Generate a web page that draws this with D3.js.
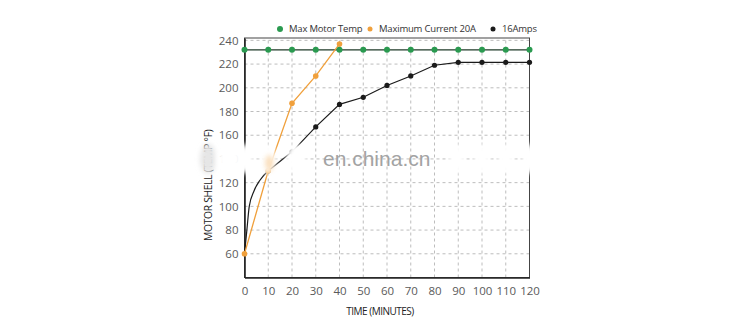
<!DOCTYPE html>
<html>
<head>
<meta charset="utf-8">
<script src="https://cdn.jsdelivr.net/npm/d3@7"></script>
<style>
  body { margin: 0; background: #fff; }
  svg { display: block; font-family: 'Open Sans', sans-serif; }
</style>
</head>
<body>
<svg width="750" height="332"></svg>
<script>
// time in minutes, temperature in °F
const xTicks = [0, 10, 20, 30, 40, 50, 60, 70, 80, 90, 100, 110, 120]
const yTicks = [60, 80, 100, 120, 140, 160, 180, 200, 220, 240]
const maxTempTime = [0, 10, 20, 30, 40, 50, 60, 70, 80, 90, 100, 110, 120]
const maxTemp = [232, 232, 232, 232, 232, 232, 232, 232, 232, 232, 232, 232, 232]
const current20Time = [0, 10, 20, 30, 40]
const current20 = [60, 130, 187, 210, 237]
// warm-up part of the 16A curve is smooth, the rest is straight segments
const amps16EarlyTime = [0, 1, 2, 4, 6.5, 10]
const amps16Early = [60, 80, 100, 113, 122, 130]
const amps16Time = [10, 20, 30, 40, 50, 60, 70, 80, 90, 100, 110, 120]
const amps16 = [130, 146, 167, 186, 192, 202, 210, 219, 221.5, 221.5, 221.5, 221.5]
const legendLabels = ['Max Motor Temp', 'Maximum Current 20A', '16Amps']

const svg = d3.select('svg')
const x = d3.scaleLinear().domain([0, 120]).range([244.5, 529.5])
const y = d3.scaleLinear().domain([40, 242]).range([277.5, 38])

const green = '#2a9a50'
const orange = '#f0a03c'
const black = '#1b1b1b'

// dashed grid
svg.append('g')
  .selectAll('line')
  .data(xTicks.slice(1, -1))
  .join('line')
  .attr('x1', (d) => x(d)).attr('x2', (d) => x(d))
  .attr('y1', y.range()[0]).attr('y2', y.range()[1])
  .attr('stroke', '#bdbdbd').attr('stroke-dasharray', '3,3')
svg.append('g')
  .selectAll('line')
  .data(yTicks)
  .join('line')
  .attr('x1', x.range()[0]).attr('x2', x.range()[1])
  .attr('y1', (d) => y(d)).attr('y2', (d) => y(d))
  .attr('stroke', '#bdbdbd').attr('stroke-dasharray', '3,3')

// frame
svg.append('rect')
  .attr('x', x.range()[0]).attr('y', y.range()[1])
  .attr('width', x.range()[1] - x.range()[0])
  .attr('height', y.range()[0] - y.range()[1])
  .attr('fill', 'none').attr('stroke', '#444').attr('stroke-width', 1)

// axes
const xAxis = svg.append('g')
  .attr('transform', `translate(0,${y.range()[0]})`)
  .call(d3.axisBottom(x).tickValues(xTicks).tickSize(0).tickPadding(9))
const yAxis = svg.append('g')
  .attr('transform', `translate(${x.range()[0]},0)`)
  .call(d3.axisLeft(y).tickValues(yTicks).tickSize(0).tickPadding(6))
;[xAxis, yAxis].forEach((g) => {
  g.select('.domain').attr('stroke', '#222').attr('stroke-width', 1.6)
  g.selectAll('text')
    .attr('fill', '#5a5a5a')
    .style('font-size', '11.5px')
    .style('font-family', "'Open Sans', sans-serif")
})

// series
const line = d3.line().x((d) => x(d[0])).y((d) => y(d[1]))
const zip = (a, b) => a.map((v, i) => [v, b[i]])

svg.append('path')
  .attr('d', line(zip(maxTempTime, maxTemp)))
  .attr('fill', 'none').attr('stroke', '#1f3a28').attr('stroke-width', 1.3)

svg.append('path')
  .attr('d', line.curve(d3.curveMonotoneX)(zip(amps16EarlyTime, amps16Early)))
  .attr('fill', 'none').attr('stroke', black).attr('stroke-width', 1.2)
line.curve(d3.curveLinear)
svg.append('path')
  .attr('d', line(zip(amps16Time, amps16)))
  .attr('fill', 'none').attr('stroke', black).attr('stroke-width', 1.2)
svg.append('g')
  .selectAll('circle')
  .data(zip(amps16Time, amps16))
  .join('circle')
  .attr('cx', (d) => x(d[0])).attr('cy', (d) => y(d[1]))
  .attr('r', 2.6).attr('fill', black)

svg.append('path')
  .attr('d', line(zip(current20Time, current20)))
  .attr('fill', 'none').attr('stroke', orange).attr('stroke-width', 1.3)
svg.append('g')
  .selectAll('circle')
  .data(zip(current20Time, current20))
  .join('circle')
  .attr('cx', (d) => x(d[0])).attr('cy', (d) => y(d[1]))
  .attr('r', 2.8).attr('fill', orange)

svg.append('g')
  .selectAll('circle')
  .data(zip(maxTempTime, maxTemp))
  .join('circle')
  .attr('cx', (d) => x(d[0])).attr('cy', (d) => y(d[1]))
  .attr('r', 3).attr('fill', green)

// legend
const legendX = [280, 370, 493]
const legendColors = [green, orange, black]
const legend = svg.append('g')
  .selectAll('g')
  .data(legendLabels)
  .join('g')
  .attr('transform', (d, i) => `translate(${legendX[i]},29)`)
legend.append('circle')
  .attr('r', (d, i) => (i === 0 ? 3 : 2.5))
  .attr('fill', (d, i) => legendColors[i])
legend.append('text')
  .attr('x', 9).attr('dy', '0.35em')
  .attr('fill', '#333')
  .style('font-size', '9.5px')
  .style('letter-spacing', '-0.2px')
  .text((d) => d)

// axis titles
svg.append('text')
  .attr('x', 380).attr('y', 315)
  .attr('text-anchor', 'middle')
  .attr('fill', '#222')
  .style('font-size', '10px')
  .style('letter-spacing', '-0.5px')
  .text('TIME (MINUTES)')
svg.append('text')
  .attr('transform', 'translate(212,241) rotate(-90)')
  .attr('fill', '#222')
  .style('font-size', '10.3px')
  .style('letter-spacing', '-0.3px')
  .text('MOTOR SHELL (TEMP °F)')

// watermark: row of blurred patches and the site name
const defs = svg.append('defs')
defs.append('filter').attr('id', 'smudge')
  .attr('x', '-100%').attr('y', '-100%').attr('width', '300%').attr('height', '300%')
  .append('feGaussianBlur').attr('stdDeviation', 2.5)
const patchX = [208, 229, 245, 268, 296, 457, 482, 506, 530]
svg.append('g')
  .selectAll('ellipse')
  .data(patchX)
  .join('ellipse')
  .attr('cx', (d) => d).attr('cy', 159)
  .attr('rx', (d, i) => (i === 1 ? 12 : i === 4 ? 10 : 8)).attr('ry', 15)
  .attr('fill', (d, i) => (i === 0 ? '#e6e6e6' : '#fff'))
  .attr('filter', 'url(#smudge)')
// orange tint where the 20A line runs under the patch
svg.append('ellipse')
  .attr('cx', x(current20Time[1]) + 1).attr('cy', 163)
  .attr('rx', 4).attr('ry', 8)
  .attr('fill', orange).attr('opacity', 0.35)
  .attr('filter', 'url(#smudge)')
svg.append('text')
  .attr('x', 323).attr('y', 166)
  .attr('fill', '#a3a3a3')
  .style('font-size', '21px')
  .style('font-family', "'Liberation Sans', Arial, sans-serif")
  .text('en.china.cn')
</script>
</body>
</html>
